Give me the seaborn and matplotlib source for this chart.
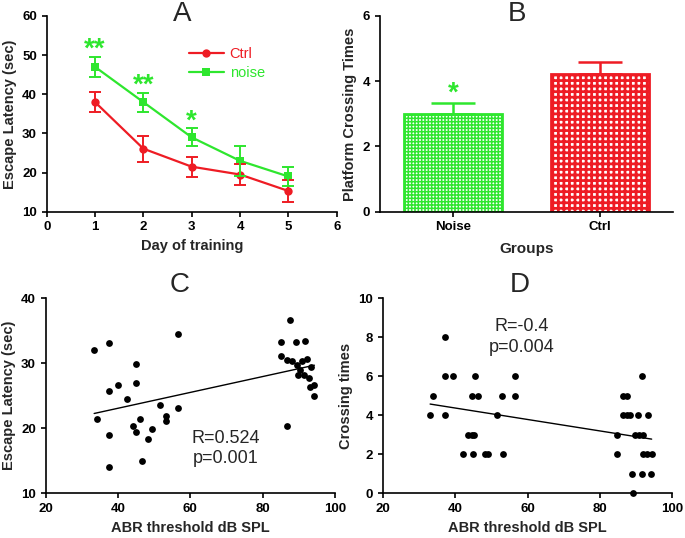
import numpy as np
import pandas as pd
import matplotlib
matplotlib.use("Agg")
import matplotlib.pyplot as plt
import seaborn as sns

# ---------------- data ----------------
days = [1, 2, 3, 4, 5]
ctrl_mean = [38.0, 26.1, 21.5, 19.5, 15.3]
ctrl_sem = [2.6, 3.3, 2.6, 2.6, 2.7]
noise_mean = [47.0, 38.0, 29.0, 23.0, 19.0]
noise_sem = [2.5, 2.4, 2.3, 3.8, 2.4]
sig_a_days = [1, 2, 3]
sig_a_text = ["**", "**", "*"]

groups = ["Noise", "Ctrl"]
cross_mean = [3.0, 4.22]
cross_sem = [0.32, 0.36]

c_abr = [33.4, 34.3, 37.5, 37.5, 37.5, 37.5, 40.0, 42.6, 44.1, 45.0, 45.0,
         45.0, 46.0, 46.7, 48.4, 49.3, 51.7, 53.4, 53.4, 56.7, 56.7,
         85.0, 89.2, 91.7, 87.5, 85.0, 86.6, 88.2, 89.5, 90.9, 92.3,
         90.3, 91.4, 89.8, 92.8, 93.4, 93.2, 94.3, 94.1, 86.8]
c_lat = [32.05, 21.5, 33.1, 25.7, 19.0, 14.0, 26.6, 24.5, 20.4, 29.9, 26.9,
         19.4, 21.4, 14.9, 18.3, 19.9, 23.6, 21.9, 21.2, 34.5, 23.2,
         33.3, 33.3, 33.4, 36.6, 31.1, 30.5, 30.3, 29.7, 30.3, 30.6,
         29.0, 28.2, 28.2, 27.7, 29.4, 26.4, 26.6, 24.9, 20.4]

d_abr = [37.2,
         37.2, 39.5, 45.5, 56.5,
         33.8, 44.6, 46.4, 52.9, 56.5,
         33.1, 37.2, 51.5,
         43.7, 44.6, 45.3,
         42.3, 44.9, 48.3, 49.2, 53.1,
         91.5,
         86.5, 87.6,
         86.5, 87.5, 88.4, 90.6, 93.4,
         84.8, 89.7, 90.9, 92.0,
         84.8, 92.0, 93.1, 94.3,
         88.8, 91.5, 94.0,
         89.1]
d_cross = [8,
           6, 6, 6, 6,
           5, 5, 5, 5, 5,
           4, 4, 4,
           3, 3, 3,
           2, 2, 2, 2, 2,
           6,
           5, 5,
           4, 4, 4, 4, 4,
           3, 3, 3, 3,
           2, 2, 2, 2,
           1, 1, 1,
           0]

# ---------------- style ----------------
sns.set_style("ticks")
plt.rcParams["font.family"] = ["Liberation Sans", "DejaVu Sans"]
plt.rcParams["axes.linewidth"] = 1.2
plt.rcParams["xtick.major.width"] = 1.2
plt.rcParams["ytick.major.width"] = 1.2
plt.rcParams["xtick.major.size"] = 3.5
plt.rcParams["ytick.major.size"] = 3.5
plt.rcParams["axes.edgecolor"] = "black"
plt.rcParams["xtick.color"] = "black"
plt.rcParams["ytick.color"] = "black"

RED = "#ee1c24"
GREEN = "#2ee62e"

W, H = 685, 538
fig = plt.figure(figsize=(W / 100, H / 100), dpi=100)


def box(l, r, t, b):
    return [l / W, 1 - b / H, (r - l) / W, (b - t) / H]


axA = fig.add_axes(box(46.7, 336.7, 16, 211.7))
axB = fig.add_axes(box(380, 673, 16, 211.7))
axC = fig.add_axes(box(45.7, 335, 298.3, 493.3))
axD = fig.add_axes(box(382.7, 672.3, 298.3, 493.3))

tick_fs = 9.5
lab_fs = 10.5


def style(ax):
    sns.despine(ax=ax)
    for lab in ax.get_xticklabels() + ax.get_yticklabels():
        lab.set_fontweight("bold")
        lab.set_fontsize(tick_fs)


# ---------------- A ----------------
dfA = pd.DataFrame({
    "day": days * 2,
    "lat": ctrl_mean + noise_mean,
    "grp": ["Ctrl"] * 5 + ["noise"] * 5,
})
sns.lineplot(data=dfA, x="day", y="lat", hue="grp", style="grp",
             markers={"Ctrl": "o", "noise": "s"}, dashes=False,
             palette={"Ctrl": RED, "noise": GREEN}, ax=axA,
             linewidth=1.6, markersize=6, markeredgewidth=0)
axA.errorbar(days, ctrl_mean, yerr=ctrl_sem, fmt="none", ecolor=RED,
             elinewidth=1.4, capsize=4, capthick=1.4)
axA.errorbar(days, noise_mean, yerr=noise_sem, fmt="none", ecolor=GREEN,
             elinewidth=1.4, capsize=4, capthick=1.4)
for d, t in zip(sig_a_days, sig_a_text):
    idx = days.index(d)
    axA.text(d, noise_mean[idx] + noise_sem[idx] - 1.5, t, color=GREEN,
             ha="center", va="bottom", fontsize=20, fontweight="bold")
axA.set_xlim(0, 6)
axA.set_ylim(10, 60)
axA.set_xticks(range(0, 7))
axA.set_yticks(range(10, 61, 10))
axA.set_xlabel("Day of training", fontsize=lab_fs, fontweight="bold")
axA.set_ylabel("Escape Latency (sec)", fontsize=lab_fs, fontweight="bold")
leg = axA.legend(loc="upper left", bbox_to_anchor=(0.465, 0.88), frameon=False,
                 fontsize=10.5, handlelength=2.4, labelspacing=0.35,
                 borderpad=0, handletextpad=0.4)
for txt, col in zip(leg.get_texts(), [RED, GREEN]):
    txt.set_color(col)
style(axA)
fig.text(181.7 / W, 1 - 14 / H, "A", ha="center", va="center", fontsize=20)

# ---------------- B ----------------
plt.rcParams["hatch.linewidth"] = 1.5
dfB = pd.DataFrame({"grp": groups, "val": cross_mean})
sns.barplot(data=dfB, x="grp", y="val", hue="grp",
            palette={"Noise": GREEN, "Ctrl": RED}, width=0.67, ax=axB,
            legend=False, errorbar=None)
for patch, col, hatch, hlw in zip(axB.patches, [GREEN, RED],
                                  ["+++++", "+++"], [1.1, 2.0]):
    patch.set_facecolor("white")
    patch.set_edgecolor(col)
    patch.set_hatch(hatch)
    if hasattr(patch, "set_hatch_linewidth"):
        patch.set_hatch_linewidth(hlw)
    patch.set_linewidth(2.0)
for i, (m, s, col) in enumerate(zip(cross_mean, cross_sem, [GREEN, RED])):
    axB.errorbar([i], [m], yerr=[[0], [s]], fmt="none", ecolor=col,
                 elinewidth=1.8, capsize=16, capthick=1.8)
axB.text(0, 3.22, "*", color=GREEN, ha="center", va="bottom",
         fontsize=20, fontweight="bold")
axB.set_xlim(-0.5, 1.5)
axB.set_ylim(0, 6)
axB.set_yticks([0, 2, 4, 6])
axB.set_xlabel("Groups", fontsize=lab_fs + 0.5, fontweight="bold", labelpad=6)
axB.set_ylabel("Platform Crossing Times", fontsize=lab_fs, fontweight="bold")
style(axB)
fig.text(516.7 / W, 1 - 14 / H, "B", ha="center", va="center", fontsize=20)

# ---------------- C ----------------
dfC = pd.DataFrame({"abr": c_abr, "lat": c_lat})
sns.regplot(data=dfC, x="abr", y="lat", ci=None, ax=axC,
            scatter_kws={"s": 24, "color": "black", "linewidths": 0, "alpha": 1},
            line_kws={"color": "black", "linewidth": 1.0})
axC.set_xlim(20, 100)
axC.set_ylim(10, 40)
axC.set_xticks([20, 40, 60, 80, 100])
axC.set_yticks([10, 20, 30, 40])
axC.set_xlabel("ABR threshold dB SPL", fontsize=lab_fs, fontweight="bold")
axC.set_ylabel("Escape Latency (sec)", fontsize=lab_fs, fontweight="bold")
axC.text(69.8, 18.5, "R=0.524", ha="center", va="center", fontsize=13)
axC.text(69.8, 15.4, "p=0.001", ha="center", va="center", fontsize=13)
style(axC)
fig.text(180 / W, 1 - 285 / H, "C", ha="center", va="center", fontsize=20)

# ---------------- D ----------------
dfD = pd.DataFrame({"abr": d_abr, "cross": d_cross})
sns.regplot(data=dfD, x="abr", y="cross", ci=None, ax=axD,
            scatter_kws={"s": 24, "color": "black", "linewidths": 0, "alpha": 1},
            line_kws={"color": "black", "linewidth": 1.0})
axD.set_xlim(20, 100)
axD.set_ylim(0, 10)
axD.set_xticks([20, 40, 60, 80, 100])
axD.set_yticks([0, 2, 4, 6, 8, 10])
axD.set_xlabel("ABR threshold dB SPL", fontsize=lab_fs, fontweight="bold")
axD.set_ylabel("Crossing times", fontsize=lab_fs, fontweight="bold")
axD.text(58.4, 8.54, "R=-0.4", ha="center", va="center", fontsize=13)
axD.text(58.4, 7.49, "p=0.004", ha="center", va="center", fontsize=13)
style(axD)
fig.text(520 / W, 1 - 285 / H, "D", ha="center", va="center", fontsize=20)

for ax in (axA, axB, axC, axD):
    for c in ax.collections:
        c.set_clip_on(False)

fig.savefig("out.png", dpi=100)
